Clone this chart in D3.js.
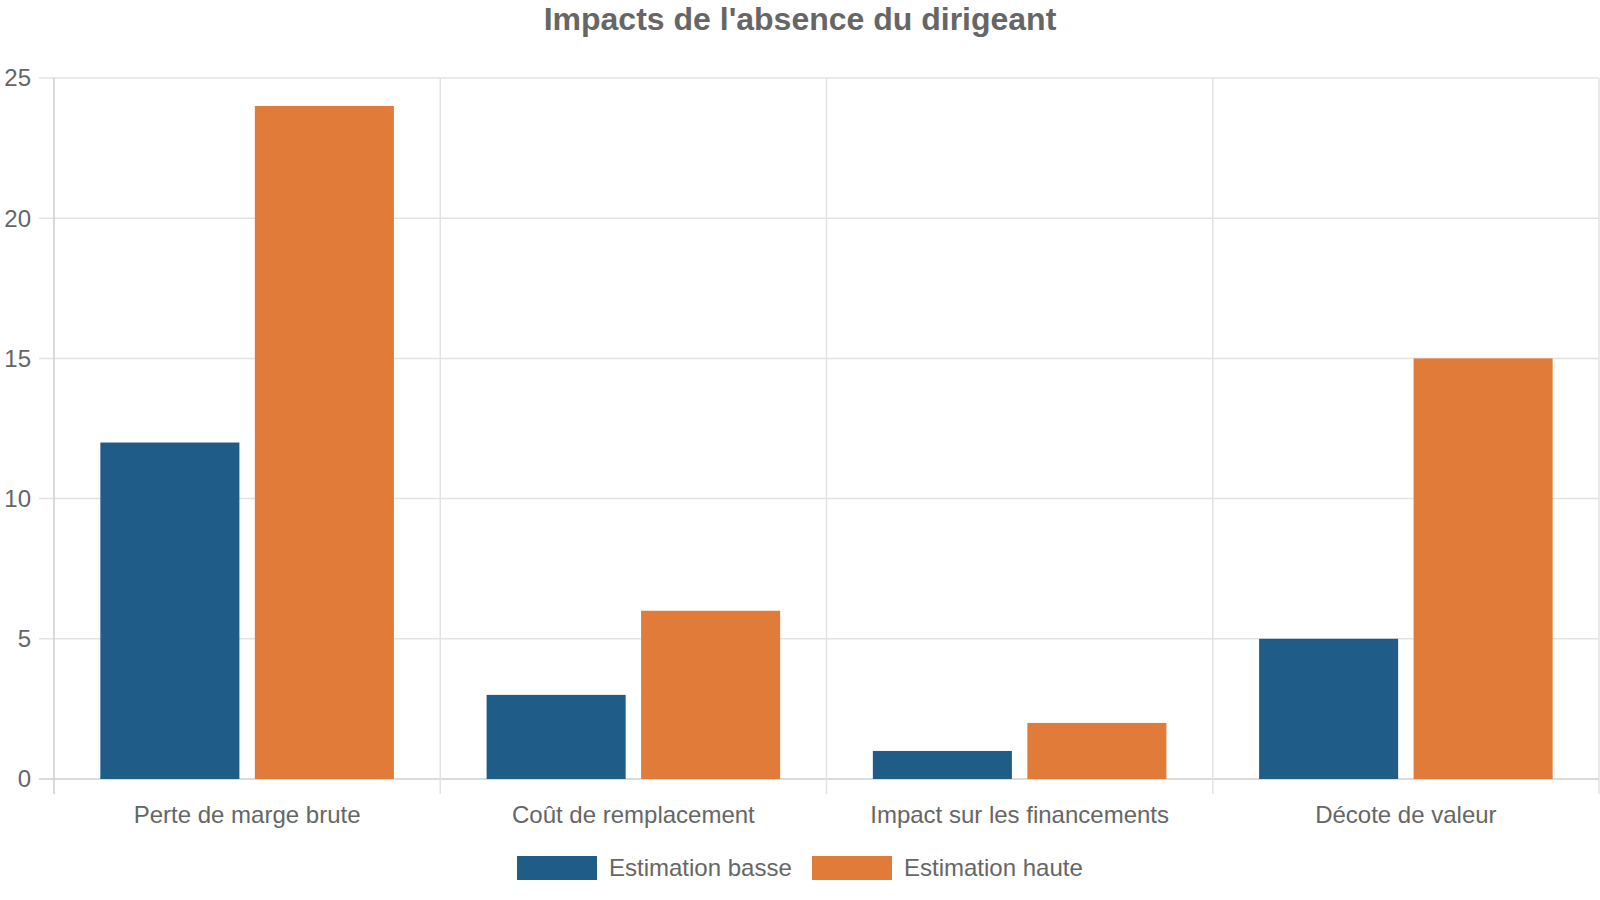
<!DOCTYPE html>
<html>
<head>
<meta charset="utf-8">
<script src="https://cdn.jsdelivr.net/npm/d3@7"></script>
<style>
  body { margin: 0; background: #fff; }
  svg text { font-family: "Liberation Sans", Arial, sans-serif; fill: #666; }
</style>
</head>
<body>
<svg id="chart" width="1600" height="900"></svg>
<script>
// data
const categories = ["Perte de marge brute", "Coût de remplacement", "Impact sur les financements", "Décote de valeur"];
const seriesNames = ["Estimation basse", "Estimation haute"];
const basse = [12, 3, 1, 5];
const haute = [24, 6, 2, 15];
const yTicks = [0, 5, 10, 15, 20, 25];
const colors = ["#1f5c87", "#e07b3a"];

const svg = d3.select("#chart");
const plotLeft = 54, plotRight = 1599, plotTop = 78, plotBottom = 779;

const x = d3.scaleBand().domain(categories).range([plotLeft, plotRight]).paddingInner(0).paddingOuter(0);
const y = d3.scaleLinear().domain([0, 25]).range([plotBottom, plotTop]);
// bars inside a category: 80% of band, each bar 90% of its slot
const inner = d3.scaleBand().domain(seriesNames)
  .range([x.bandwidth() * 0.1, x.bandwidth() * 0.9]).paddingInner(0.1).paddingOuter(0.05);

// title
svg.append("text")
  .attr("x", 800).attr("y", 19)
  .attr("text-anchor", "middle").attr("dy", "0.35em")
  .style("font-size", "32px").style("font-weight", "bold")
  .text("Impacts de l'absence du dirigeant");

// horizontal grid
svg.append("g").selectAll("line").data(yTicks).join("line")
  .attr("x1", plotLeft - 15).attr("x2", plotRight)
  .attr("y1", d => y(d)).attr("y2", d => y(d))
  .attr("stroke", d => d === 0 ? "#cfcfcf" : "#e3e3e3")
  .attr("stroke-width", 1.5);

// vertical grid (category edges)
const edges = categories.map(c => x(c)).concat([plotRight]);
svg.append("g").selectAll("line").data(edges).join("line")
  .attr("x1", d => d).attr("x2", d => d)
  .attr("y1", plotTop).attr("y2", plotBottom + 15)
  .attr("stroke", (d, i) => i === 0 ? "#cfcfcf" : "#e3e3e3")
  .attr("stroke-width", 1.5);

// y labels
svg.append("g").selectAll("text").data(yTicks).join("text")
  .attr("x", 31).attr("y", d => y(d)).attr("dy", "0.35em")
  .attr("text-anchor", "end")
  .style("font-size", "24px")
  .text(d => d);

// x labels
svg.append("g").selectAll("text").data(categories).join("text")
  .attr("x", d => x(d) + x.bandwidth() / 2).attr("y", 815).attr("dy", "0.35em")
  .attr("text-anchor", "middle")
  .style("font-size", "24px")
  .text(d => d);

// bars
const series = [basse, haute];
const groups = svg.append("g").selectAll("g").data(categories).join("g")
  .attr("transform", d => `translate(${x(d)},0)`);
groups.selectAll("rect")
  .data((c, i) => seriesNames.map((s, k) => ({ s, v: series[k][i], k })))
  .join("rect")
  .attr("x", d => inner(d.s))
  .attr("width", inner.bandwidth())
  .attr("y", d => y(d.v))
  .attr("height", d => y(0) - y(d.v))
  .attr("fill", d => colors[d.k]);

// legend
const legend = svg.append("g");
const legX = [517, 812];
seriesNames.forEach((s, i) => {
  legend.append("rect")
    .attr("x", legX[i]).attr("y", 856).attr("width", 80).attr("height", 24)
    .attr("fill", colors[i]);
  legend.append("text")
    .attr("x", legX[i] + 92).attr("y", 868).attr("dy", "0.35em")
    .style("font-size", "24px")
    .text(s);
});
</script>
</body>
</html>
